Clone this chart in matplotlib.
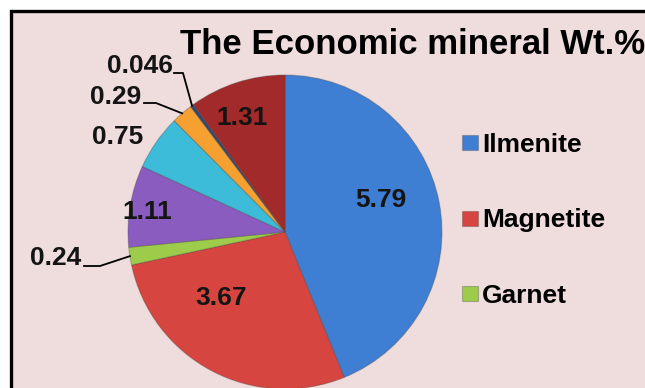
import numpy as np
import matplotlib

matplotlib.use("Agg")
import matplotlib.pyplot as plt
from matplotlib.patches import Rectangle

plt.rcParams["font.family"] = ["Liberation Sans", "DejaVu Sans"]

# Wt.% of the economic minerals, clockwise from 12 o'clock
minerals = ["Ilmenite", "Magnetite", "Garnet", "Zircon", "Rutile", "Monazite", "Leucoxene", "Sphene"]
wt_pct = [5.79, 3.67, 0.24, 1.11, 0.75, 0.29, 0.046, 1.31]
value_labels = ["5.79", "3.67", "0.24", "1.11", "0.75", "0.29", "0.046", "1.31"]
colors = ["#3f7fd3", "#d64540", "#9ccc4a", "#8a5cbf", "#3cbcd9", "#f5a030", "#2f4a78", "#a32a2a"]
legend_shown = 3

W, H = 645, 388
fig = plt.figure(figsize=(W / 100, H / 100), dpi=100)
fig.patch.set_facecolor("white")


def px(x, y):
    """pixel position (from top-left) -> figure fraction"""
    return x / W, 1 - y / H


# chart area with black frame (runs off the right and bottom edge)
x0, y0 = px(10.5, 10.5)
fig.patches.append(Rectangle((x0, -0.05), 1.1, y0 + 0.05, transform=fig.transFigure,
                             facecolor="#efdcdc", edgecolor="black", linewidth=2.4, zorder=-1))

# pie axes: centre (285, 232) px, radius 157 px
cx, cy, r = 285, 232, 157
ax = fig.add_axes([(cx - r) / W, (H - cy - r) / H, 2 * r / W, 2 * r / H])
ax.set_facecolor("none")
wedges, _ = ax.pie(wt_pct, colors=colors, startangle=90, counterclock=False,
                   wedgeprops=dict(edgecolor="#40404050", linewidth=0.8))
ax.set_xlim(-1, 1)
ax.set_ylim(-1, 1)
ax.set_aspect("equal")
ax.axis("off")

txt = dict(fontsize=19, fontweight="bold", color="#141414", ha="center", va="center")

# labels sitting inside the larger slices
inside = {0: (381, 200), 1: (221, 298), 3: (147, 212), 4: (118, 137), 7: (242, 118)}
for i, (lx, ly) in inside.items():
    fig.text(*px(lx, ly), value_labels[i], **txt)

# small slices get a leader line to the rim
callouts = {2: ((56, 258), (100, 266)), 5: ((116, 97), (156, 103)), 6: ((140, 66), (183, 73))}
for i, (tpos, elbow) in callouts.items():
    w = wedges[i]
    mid = np.deg2rad((w.theta1 + w.theta2) / 2)
    rim = ax.transData.transform((np.cos(mid), np.sin(mid)))
    rim = fig.transFigure.inverted().transform(rim)
    tx, ty = px(*tpos)
    ex, ey = px(*elbow)
    sx = px(tpos[0] + 28 + (6 if i == 6 else 0), 0)[0]
    fig.lines.append(plt.Line2D([sx, ex, rim[0]], [ey, ey, rim[1]], transform=fig.transFigure,
                                color="black", linewidth=1.3))
    fig.text(tx, ty, value_labels[i], **txt)

fig.text(*px(413, 44), "The Economic mineral Wt.%", fontsize=25, fontweight="bold",
         ha="center", va="center", color="black")

fig.legend(wedges[:legend_shown], minerals[:legend_shown], loc="upper left",
           bbox_to_anchor=px(462, 133), frameon=False, prop=dict(size=19, weight="bold"),
           handlelength=0.6, handleheight=0.5, handletextpad=0.15, labelspacing=1.95,
           borderpad=0, borderaxespad=0)

fig.savefig("out.png", dpi=100, facecolor=fig.get_facecolor())
